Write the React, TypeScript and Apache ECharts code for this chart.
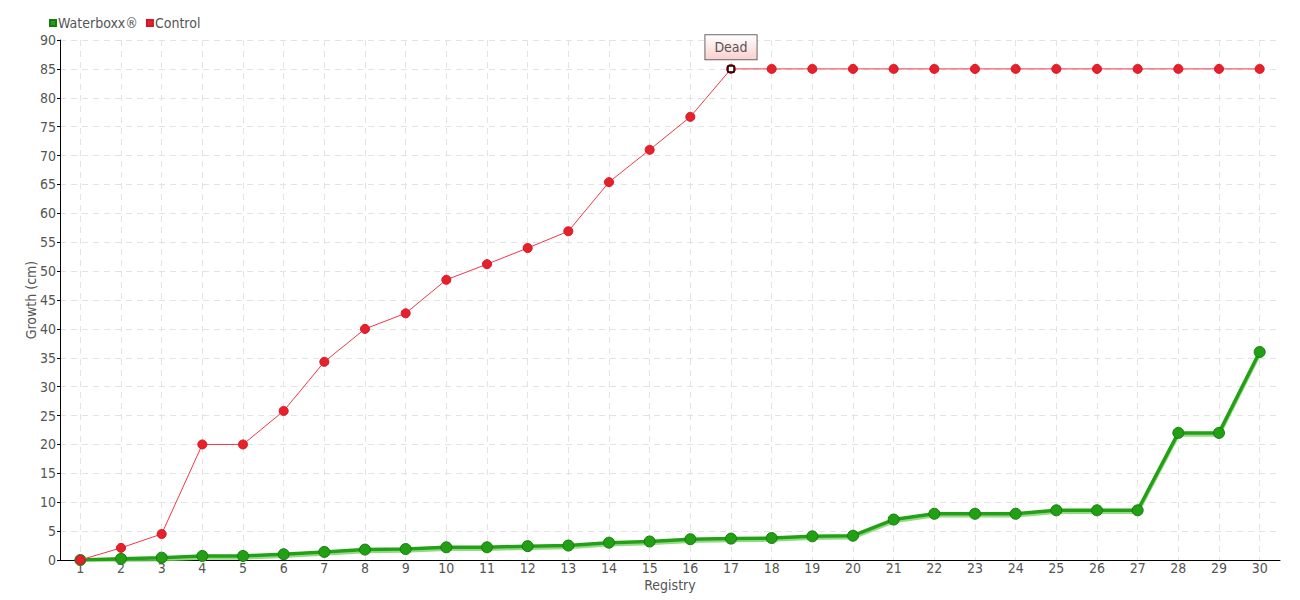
import React, { useEffect, useRef } from "react";
import * as echarts from "echarts";

const categories = Array.from({ length: 30 }, (_, i) => String(i + 1));
const waterboxx = [0, 0.2, 0.4, 0.7, 0.7, 1.0, 1.4, 1.8, 1.9, 2.2, 2.2, 2.4, 2.5, 3.0, 3.2, 3.6, 3.7, 3.8, 4.1, 4.2, 7.0, 8.0, 8.0, 8.0, 8.6, 8.6, 8.6, 22, 22, 36];
const control = [0, 2.1, 4.5, 20, 20, 25.8, 34.3, 40, 42.7, 48.5, 51.2, 54, 56.9, 65.4, 71, 76.7, 85, 85, 85, 85, 85, 85, 85, 85, 85, 85, 85, 85, 85, 85];
const deadIndex = 16;
const deadLabel = "Dead";

const FONT = "'DejaVu Sans Condensed', 'Liberation Sans Narrow', sans-serif";

export default function App() {
  const ref = useRef<HTMLDivElement>(null);
  useEffect(() => {
    if (!ref.current) return;
    const chart = echarts.init(ref.current, null, { renderer: "svg" });
    chart.setOption({
      animation: false,
      textStyle: { fontFamily: FONT },
      legend: {
        left: 44,
        top: 11,
        itemWidth: 6,
        itemHeight: 6,
        itemGap: 8,
        icon: "rect",
        textStyle: { fontFamily: FONT, fontSize: 14, color: "#555", padding: [0, 0, 0, -3] },
        data: [
          { name: "Waterboxx®", itemStyle: { color: "#22a014" } },
          { name: "Control", itemStyle: { color: "#e8202a" } },
        ],
      },
      grid: { left: 60, right: 20, top: 40, bottom: 40 },
      xAxis: {
        type: "category",
        data: categories,
        boundaryGap: true,
        name: "Registry",
        nameLocation: "middle",
        nameGap: 18,
        nameMoveOverlap: false,
        nameTextStyle: { fontFamily: FONT, fontSize: 14, color: "#555" },
        axisLine: { lineStyle: { color: "#000" } },
        axisTick: { alignWithLabel: true, length: 4, lineStyle: { color: "#000" } },
        axisLabel: { fontFamily: FONT, fontSize: 14, color: "#555", margin: 1, interval: 0 },
        splitLine: { show: true, interval: 0, alignWithLabel: true, lineStyle: { color: "#e3e3e3", type: [6, 5] } },
      },
      yAxis: {
        type: "value",
        min: 0,
        max: 90,
        interval: 5,
        name: "Growth (cm)",
        nameLocation: "middle",
        nameGap: 22,
        nameMoveOverlap: false,
        nameTextStyle: { fontFamily: FONT, fontSize: 14, color: "#555" },
        axisLine: { show: true, lineStyle: { color: "#000" } },
        axisTick: { show: true, length: 3, lineStyle: { color: "#000" } },
        axisLabel: { fontFamily: FONT, fontSize: 14, color: "#555", margin: 4 },
        splitLine: { show: true, lineStyle: { color: "#e3e3e3", type: [6, 5] } },
      },
      series: [
        {
          name: "Waterboxx®",
          type: "line",
          data: waterboxx,
          symbol: "circle",
          symbolSize: 11,
          z: 3,
          lineStyle: {
            color: "#22a014",
            width: 3.5,
            shadowColor: "rgba(120,210,100,0.8)",
            shadowOffsetY: 2,
            shadowBlur: 0,
          },
          itemStyle: { color: "#22a014", borderColor: "#1a7a10", borderWidth: 1 },
        },
        {
          name: "Control",
          type: "line",
          data: control,
          symbol: "circle",
          symbolSize: 9,
          z: 4,
          lineStyle: { color: "#f03848", width: 1 },
          itemStyle: { color: "#e8202a", borderColor: "#d01828", borderWidth: 1 },
          markPoint: {
            symbol: "rect",
            symbolSize: 6,
            itemStyle: { color: "#fff", borderColor: "#000", borderWidth: 1.5 },
            label: {
              show: true,
              position: "top",
              distance: 6,
              formatter: "{b}",
              fontFamily: FONT,
              fontSize: 14,
              color: "#555",
              padding: [5, 9, 5, 9],
              borderColor: "#666",
              borderWidth: 1,
              backgroundColor: {
                type: "linear",
                x: 0,
                y: 0,
                x2: 0,
                y2: 1,
                colorStops: [
                  { offset: 0, color: "#ffffff" },
                  { offset: 1, color: "#fbd0d0" },
                ],
              },
            },
            data: [{ name: deadLabel, coord: [deadIndex, control[deadIndex]] }],
          },
        },
      ],
    });
    return () => chart.dispose();
  }, []);
  return <div ref={ref} style={{ width: 1300, height: 600, position: "absolute", left: 0, top: 0 }} />;
}
